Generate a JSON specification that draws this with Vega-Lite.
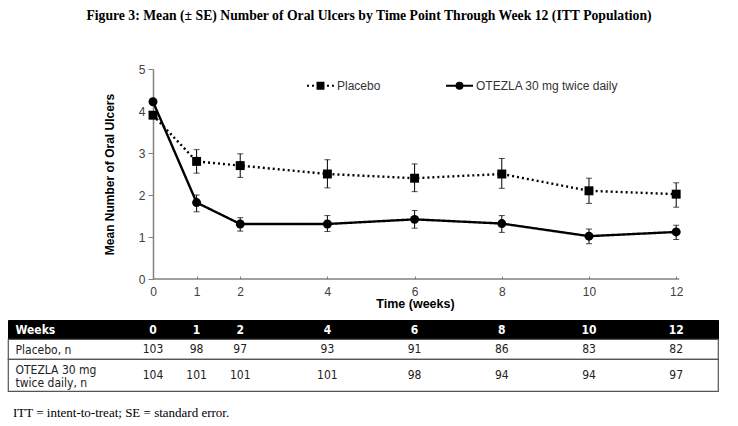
{
  "$schema": "https://vega.github.io/schema/vega-lite/v6.json",
  "padding": {"left": 7, "top": 9, "right": 0, "bottom": 0},
  "background": "white",
  "title": {
    "text": "Figure 3: Mean (± SE) Number of Oral Ulcers by Time Point Through Week 12 (ITT Population)",
    "font": "Liberation Serif",
    "fontSize": 13.7,
    "fontWeight": "bold",
    "color": "black",
    "anchor": "middle",
    "dx": 6,
    "offset": 40
  },
  "config": {
    "font": "Liberation Sans",
    "view": {"stroke": null},
    "axis": {"labelFont": "Liberation Sans", "titleFont": "Liberation Sans"}
  },
  "datasets": {
    "means": [
      {"week": 0, "series": "Placebo", "mean": 3.9, "lo": null, "hi": null},
      {"week": 1, "series": "Placebo", "mean": 2.8, "lo": 2.52, "hi": 3.08},
      {"week": 2, "series": "Placebo", "mean": 2.7, "lo": 2.42, "hi": 2.98},
      {"week": 4, "series": "Placebo", "mean": 2.5, "lo": 2.17, "hi": 2.84},
      {"week": 6, "series": "Placebo", "mean": 2.4, "lo": 2.08, "hi": 2.74},
      {"week": 8, "series": "Placebo", "mean": 2.5, "lo": 2.16, "hi": 2.87},
      {"week": 10, "series": "Placebo", "mean": 2.1, "lo": 1.8, "hi": 2.4},
      {"week": 12, "series": "Placebo", "mean": 2.02, "lo": 1.71, "hi": 2.29},
      {"week": 0, "series": "OTEZLA 30 mg twice daily", "mean": 4.22, "lo": null, "hi": null},
      {"week": 1, "series": "OTEZLA 30 mg twice daily", "mean": 1.82, "lo": 1.6, "hi": 2.0},
      {"week": 2, "series": "OTEZLA 30 mg twice daily", "mean": 1.31, "lo": 1.14, "hi": 1.46},
      {"week": 4, "series": "OTEZLA 30 mg twice daily", "mean": 1.31, "lo": 1.13, "hi": 1.51},
      {"week": 6, "series": "OTEZLA 30 mg twice daily", "mean": 1.42, "lo": 1.21, "hi": 1.63},
      {"week": 8, "series": "OTEZLA 30 mg twice daily", "mean": 1.32, "lo": 1.11, "hi": 1.51},
      {"week": 10, "series": "OTEZLA 30 mg twice daily", "mean": 1.02, "lo": 0.84, "hi": 1.19},
      {"week": 12, "series": "OTEZLA 30 mg twice daily", "mean": 1.12, "lo": 0.94, "hi": 1.28}
    ],
    "table": [
      {"row": "Weeks", "week": 0, "value": "0"},
      {"row": "Weeks", "week": 1, "value": "1"},
      {"row": "Weeks", "week": 2, "value": "2"},
      {"row": "Weeks", "week": 4, "value": "4"},
      {"row": "Weeks", "week": 6, "value": "6"},
      {"row": "Weeks", "week": 8, "value": "8"},
      {"row": "Weeks", "week": 10, "value": "10"},
      {"row": "Weeks", "week": 12, "value": "12"},
      {"row": "Placebo, n", "week": 0, "value": "103"},
      {"row": "Placebo, n", "week": 1, "value": "98"},
      {"row": "Placebo, n", "week": 2, "value": "97"},
      {"row": "Placebo, n", "week": 4, "value": "93"},
      {"row": "Placebo, n", "week": 6, "value": "91"},
      {"row": "Placebo, n", "week": 8, "value": "86"},
      {"row": "Placebo, n", "week": 10, "value": "83"},
      {"row": "Placebo, n", "week": 12, "value": "82"},
      {"row": "OTEZLA 30 mg twice daily, n", "week": 0, "value": "104"},
      {"row": "OTEZLA 30 mg twice daily, n", "week": 1, "value": "101"},
      {"row": "OTEZLA 30 mg twice daily, n", "week": 2, "value": "101"},
      {"row": "OTEZLA 30 mg twice daily, n", "week": 4, "value": "101"},
      {"row": "OTEZLA 30 mg twice daily, n", "week": 6, "value": "98"},
      {"row": "OTEZLA 30 mg twice daily, n", "week": 8, "value": "94"},
      {"row": "OTEZLA 30 mg twice daily, n", "week": 10, "value": "94"},
      {"row": "OTEZLA 30 mg twice daily, n", "week": 12, "value": "97"}
    ]
  },
  "resolve": {"scale": {"x": "independent", "y": "independent"}},
  "bounds": "flush",
  "spacing": 41,
  "vconcat": [
    {
      "width": 710,
      "height": 210,
      "data": {"name": "means"},
      "resolve": {"scale": {"shape": "independent"}},
      "layer": [
        {
          "data": {"values": [{}]},
          "mark": {"type": "rule", "color": "#808080", "strokeWidth": 1.5},
          "encoding": {
            "x": {"datum": 0, "type": "quantitative"},
            "x2": {"datum": 12.07},
            "y": {"datum": 0, "type": "quantitative"}
          }
        },
        {
          "mark": {"type": "line", "color": "black", "strokeWidth": 2.4},
          "encoding": {
            "x": {
              "field": "week",
              "type": "quantitative",
              "scale": {"domain": [-3.326, 12.959], "nice": false, "zero": false},
              "axis": {
                "title": "Time (weeks)",
                "values": [0, 1, 2, 4, 6, 8, 10, 12],
                "domain": false,
                "grid": false,
                "tickSize": -3,
                "tickColor": "#808080",
                "labelPadding": 10,
                "labelFontSize": 12,
                "labelColor": "#404040",
                "titleFontSize": 12.5,
                "titleFontWeight": "bold",
                "titleColor": "black",
                "titleX": 407,
                "titlePadding": 0
              }
            },
            "y": {
              "field": "mean",
              "type": "quantitative",
              "title": "Mean Number of Oral Ulcers",
              "scale": {"domain": [0, 5], "nice": false},
              "axis": {
                "title": "Mean Number of Oral Ulcers",
                "values": [0, 1, 2, 3, 4, 5],
                "offset": -145,
                "grid": false,
                "domainColor": "#808080",
                "domainWidth": 1.5,
                "tickColor": "#808080",
                "tickSize": 5,
                "labelFontSize": 12,
                "labelColor": "#404040",
                "labelPadding": 3,
                "titleFontSize": 12,
                "titleFontWeight": "bold",
                "titleColor": "black",
                "titlePadding": 22
              }
            },
            "detail": {"field": "series", "type": "nominal"},
            "strokeDash": {
              "condition": {"test": "datum.series === 'Placebo'", "value": [2, 3]},
              "value": [1, 0]
            }
          }
        },
        {
          "mark": {"type": "errorbar", "color": "black", "thickness": 1, "ticks": {"size": 6, "color": "black", "thickness": 1}},
          "encoding": {
            "x": {"field": "week", "type": "quantitative"},
            "y": {"field": "lo", "type": "quantitative", "title": "Mean Number of Oral Ulcers"},
            "y2": {"field": "hi"},
            "detail": {"field": "series", "type": "nominal"}
          }
        },
        {
          "mark": {"type": "point", "filled": true, "color": "black", "opacity": 1, "size": 80},
          "encoding": {
            "x": {"field": "week", "type": "quantitative"},
            "y": {"field": "mean", "type": "quantitative", "title": "Mean Number of Oral Ulcers"},
            "shape": {
              "field": "series",
              "type": "nominal",
              "scale": {"domain": ["Placebo", "OTEZLA 30 mg twice daily"], "range": ["square", "circle"]},
              "legend": null
            }
          }
        },
        {
          "mark": {"type": "point", "filled": false, "fill": "black", "stroke": "black", "strokeWidth": 2, "opacity": 0, "size": 729},
          "encoding": {
            "x": {"field": "week", "type": "quantitative"},
            "y": {"field": "mean", "type": "quantitative", "title": "Mean Number of Oral Ulcers"},
            "shape": {
              "field": "series",
              "type": "nominal",
              "scale": {
                "domain": ["Placebo", "OTEZLA 30 mg twice daily"],
                "range": [
                  "M-1,0H-0.85M-0.63,0H-0.48M-0.26,0H-0.11M0.11,0H0.26M0.48,0H0.63M0.85,0H1M-0.22,-0.22H0.22V0.22H-0.22Z",
                  "M-1,0H1M-0.22,0A0.22,0.22,0,1,1,0.22,0A0.22,0.22,0,1,1,-0.22,0Z"
                ]
              },
              "legend": {
                "orient": "none",
                "legendX": 298,
                "legendY": 2,
                "direction": "horizontal",
                "title": null,
                "padding": 0,
                "symbolSize": 729,
                "symbolOpacity": 1,
                "symbolStrokeWidth": 2,
                "columnPadding": 61,
                "labelOffset": 2,
                "labelFont": "Liberation Sans",
                "labelFontSize": 12,
                "labelColor": "#333333",
                "labelLimit": 0
              }
            }
          }
        }
      ]
    },
    {
      "spacing": 0,
      "bounds": "flush",
      "resolve": {"scale": {"x": "independent", "y": "independent"}},
      "vconcat": [
        {
          "width": 710,
          "height": 19,
          "view": {"fill": "black", "stroke": "black"},
          "data": {"name": "table"},
          "transform": [{"filter": "datum.row === 'Weeks'"}],
          "mark": {"type": "text", "font": "Liberation Sans Narrow, DejaVu Sans Condensed, sans-serif", "fontSize": 12, "fontWeight": "bold", "color": "white"},
          "encoding": {
            "x": {"field": "week", "type": "quantitative", "scale": {"domain": [-3.326, 12.959], "nice": false, "zero": false}, "axis": null},
            "y": {
              "field": "row",
              "type": "nominal",
              "axis": {"title": null, "domain": false, "ticks": false, "labelAlign": "left", "labelPadding": -7, "labelFont": "Liberation Sans Narrow, DejaVu Sans Condensed, sans-serif", "labelFontSize": 12, "labelFontWeight": "bold", "labelColor": "white", "labelLimit": 0}
            },
            "text": {"field": "value"}
          }
        },
        {
          "width": 710,
          "height": 20,
          "view": {"stroke": "#555555", "strokeWidth": 1.2},
          "data": {"name": "table"},
          "transform": [{"filter": "datum.row === 'Placebo, n'"}],
          "mark": {"type": "text", "font": "Liberation Sans Narrow, DejaVu Sans Condensed, sans-serif", "fontSize": 12, "color": "#222222"},
          "encoding": {
            "x": {"field": "week", "type": "quantitative", "scale": {"domain": [-3.326, 12.959], "nice": false, "zero": false}, "axis": null},
            "y": {
              "field": "row",
              "type": "nominal",
              "axis": {"title": null, "domain": false, "ticks": false, "labelAlign": "left", "labelPadding": -7, "labelFont": "Liberation Sans Narrow, DejaVu Sans Condensed, sans-serif", "labelFontSize": 12, "labelColor": "#222222", "labelLimit": 0}
            },
            "text": {"field": "value"}
          }
        },
        {
          "width": 710,
          "height": 32,
          "view": {"stroke": "#555555", "strokeWidth": 1.2},
          "title": {"text": "ITT = intent-to-treat; SE = standard error.", "orient": "bottom", "anchor": "start", "font": "Liberation Serif", "fontSize": 13, "fontWeight": "normal", "color": "black", "offset": 16, "dx": 5},
          "data": {"name": "table"},
          "transform": [{"filter": "datum.row === 'OTEZLA 30 mg twice daily, n'"}],
          "mark": {"type": "text", "font": "Liberation Sans Narrow, DejaVu Sans Condensed, sans-serif", "fontSize": 12, "color": "#222222"},
          "encoding": {
            "x": {"field": "week", "type": "quantitative", "scale": {"domain": [-3.326, 12.959], "nice": false, "zero": false}, "axis": null},
            "y": {
              "field": "row",
              "type": "nominal",
              "axis": {"title": null, "domain": false, "ticks": false, "labelAlign": "left", "labelPadding": -7, "labelOffset": -6, "labelFont": "Liberation Sans Narrow, DejaVu Sans Condensed, sans-serif", "labelFontSize": 12, "labelColor": "#222222", "labelLimit": 0, "labelLineHeight": 13, "labelExpr": "datum.label === 'OTEZLA 30 mg twice daily, n' ? ['OTEZLA 30 mg', 'twice daily, n'] : datum.label"}
            },
            "text": {"field": "value"}
          }
        }
      ]
    }
  ]
}
